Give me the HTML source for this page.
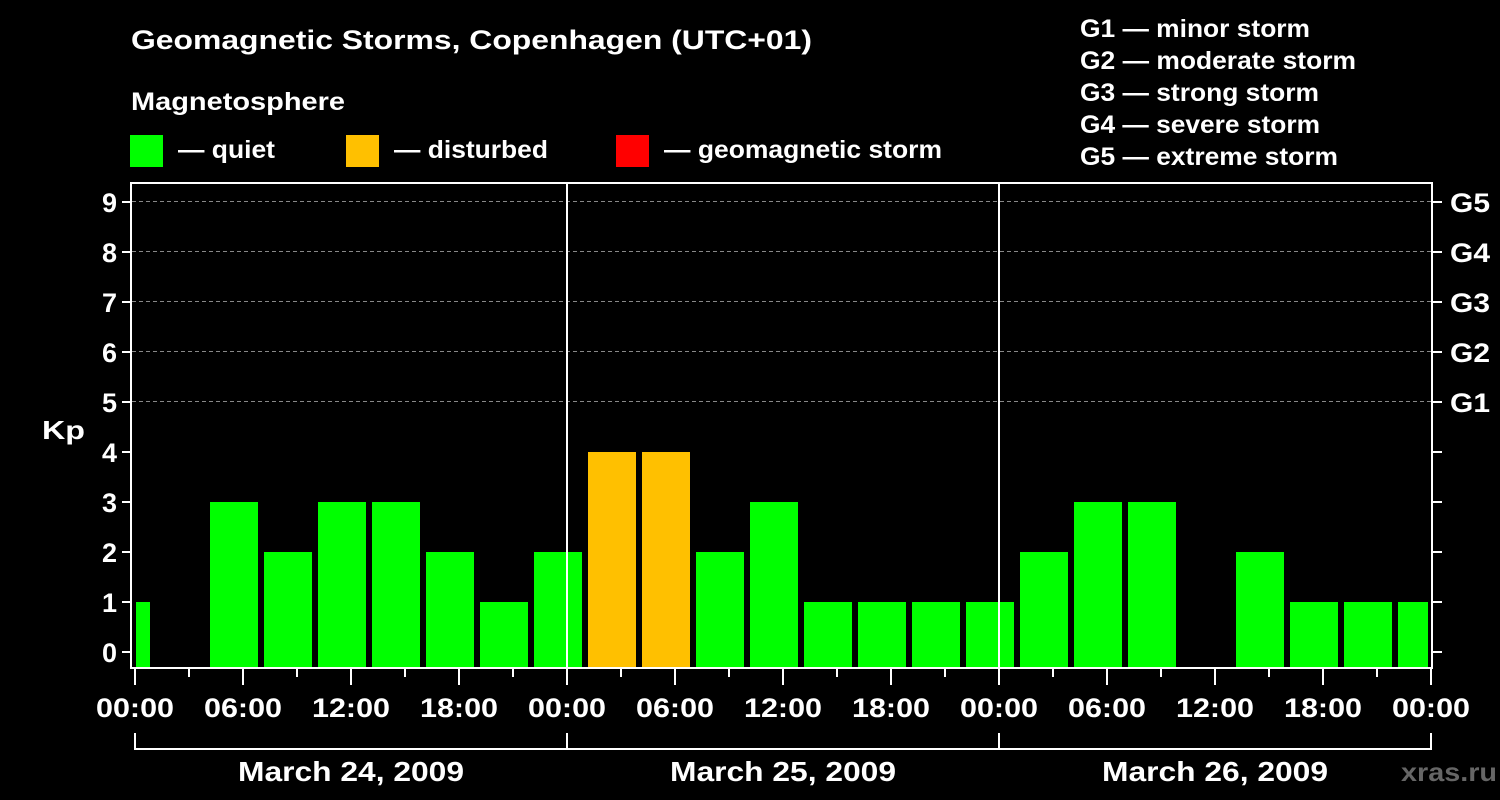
<!DOCTYPE html>
<html><head><meta charset="utf-8"><style>
html,body{margin:0;padding:0;background:#000;width:1500px;height:800px;overflow:hidden}
svg text{font-family:"Liberation Sans",Arial,sans-serif;font-weight:bold;fill:#fff}
</style></head><body>
<svg width="1500" height="800" xmlns="http://www.w3.org/2000/svg">
<rect width="1500" height="800" fill="#000"/>
<text x="131" y="49" font-size="27" textLength="681" lengthAdjust="spacingAndGlyphs">Geomagnetic Storms, Copenhagen (UTC+01)</text>
<text x="131" y="110" font-size="25" textLength="214" lengthAdjust="spacingAndGlyphs">Magnetosphere</text>
<rect x="130" y="135" width="33" height="32" fill="#00ff00"/>
<text x="178" y="158" font-size="25" textLength="97" lengthAdjust="spacingAndGlyphs">— quiet</text>
<rect x="346" y="135" width="33" height="32" fill="#ffc000"/>
<text x="394" y="158" font-size="25" textLength="154" lengthAdjust="spacingAndGlyphs">— disturbed</text>
<rect x="616" y="135" width="33" height="32" fill="#ff0000"/>
<text x="664" y="158" font-size="25" textLength="278" lengthAdjust="spacingAndGlyphs">— geomagnetic storm</text>
<g font-size="25">
<text x="1080" y="37" textLength="230" lengthAdjust="spacingAndGlyphs">G1 — minor storm</text>
<text x="1080" y="69" textLength="276" lengthAdjust="spacingAndGlyphs">G2 — moderate storm</text>
<text x="1080" y="101" textLength="239" lengthAdjust="spacingAndGlyphs">G3 — strong storm</text>
<text x="1080" y="133" textLength="240" lengthAdjust="spacingAndGlyphs">G4 — severe storm</text>
<text x="1080" y="165" textLength="258" lengthAdjust="spacingAndGlyphs">G5 — extreme storm</text>
</g>
<g stroke="#888" stroke-width="1" stroke-dasharray="4,3">
<line x1="132" x2="1431" y1="201.5" y2="201.5"/>
<line x1="132" x2="1431" y1="251.5" y2="251.5"/>
<line x1="132" x2="1431" y1="301.5" y2="301.5"/>
<line x1="132" x2="1431" y1="351.5" y2="351.5"/>
<line x1="132" x2="1431" y1="401.5" y2="401.5"/>
</g>
<g fill="#00ff00">
<rect x="136" y="602" width="14" height="66"/>
<rect x="210" y="502" width="48" height="166"/>
<rect x="264" y="552" width="48" height="116"/>
<rect x="318" y="502" width="48" height="166"/>
<rect x="372" y="502" width="48" height="166"/>
<rect x="426" y="552" width="48" height="116"/>
<rect x="480" y="602" width="48" height="66"/>
<rect x="534" y="552" width="48" height="116"/>
<rect x="696" y="552" width="48" height="116"/>
<rect x="750" y="502" width="48" height="166"/>
<rect x="804" y="602" width="48" height="66"/>
<rect x="858" y="602" width="48" height="66"/>
<rect x="912" y="602" width="48" height="66"/>
<rect x="966" y="602" width="48" height="66"/>
<rect x="1020" y="552" width="48" height="116"/>
<rect x="1074" y="502" width="48" height="166"/>
<rect x="1128" y="502" width="48" height="166"/>
<rect x="1236" y="552" width="48" height="116"/>
<rect x="1290" y="602" width="48" height="66"/>
<rect x="1344" y="602" width="48" height="66"/>
<rect x="1398" y="602" width="30" height="66"/>
</g>
<g fill="#ffc000">
<rect x="588" y="452" width="48" height="216"/>
<rect x="642" y="452" width="48" height="216"/>
</g>
<g stroke="#fff" stroke-width="2" fill="none">
<rect x="131" y="183" width="1301" height="485"/>
<line x1="567" x2="567" y1="183" y2="668"/>
<line x1="999" x2="999" y1="183" y2="668"/>
</g>
<g stroke="#fff" stroke-width="2">
<line x1="122" x2="131" y1="652" y2="652"/><line x1="1432" x2="1442" y1="652" y2="652"/>
<line x1="122" x2="131" y1="602" y2="602"/><line x1="1432" x2="1442" y1="602" y2="602"/>
<line x1="122" x2="131" y1="552" y2="552"/><line x1="1432" x2="1442" y1="552" y2="552"/>
<line x1="122" x2="131" y1="502" y2="502"/><line x1="1432" x2="1442" y1="502" y2="502"/>
<line x1="122" x2="131" y1="452" y2="452"/><line x1="1432" x2="1442" y1="452" y2="452"/>
<line x1="122" x2="131" y1="402" y2="402"/><line x1="1432" x2="1442" y1="402" y2="402"/>
<line x1="122" x2="131" y1="352" y2="352"/><line x1="1432" x2="1442" y1="352" y2="352"/>
<line x1="122" x2="131" y1="302" y2="302"/><line x1="1432" x2="1442" y1="302" y2="302"/>
<line x1="122" x2="131" y1="252" y2="252"/><line x1="1432" x2="1442" y1="252" y2="252"/>
<line x1="122" x2="131" y1="202" y2="202"/><line x1="1432" x2="1442" y1="202" y2="202"/>
</g>
<g font-size="27" text-anchor="end">
<text x="117" y="662">0</text><text x="117" y="612">1</text><text x="117" y="562">2</text>
<text x="117" y="512">3</text><text x="117" y="462">4</text><text x="117" y="412">5</text>
<text x="117" y="362">6</text><text x="117" y="312">7</text><text x="117" y="262">8</text>
<text x="117" y="212">9</text>
</g>
<text x="42" y="439" font-size="26" textLength="43" lengthAdjust="spacingAndGlyphs">Kp</text>
<g font-size="27">
<text x="1450" y="412" textLength="40" lengthAdjust="spacingAndGlyphs">G1</text>
<text x="1450" y="362" textLength="40" lengthAdjust="spacingAndGlyphs">G2</text>
<text x="1450" y="312" textLength="40" lengthAdjust="spacingAndGlyphs">G3</text>
<text x="1450" y="262" textLength="40" lengthAdjust="spacingAndGlyphs">G4</text>
<text x="1450" y="212" textLength="40" lengthAdjust="spacingAndGlyphs">G5</text>
</g>
<g stroke="#fff" stroke-width="2">
<line x1="135" x2="135" y1="669" y2="685"/><line x1="189" x2="189" y1="669" y2="677"/>
<line x1="243" x2="243" y1="669" y2="685"/><line x1="297" x2="297" y1="669" y2="677"/>
<line x1="351" x2="351" y1="669" y2="685"/><line x1="405" x2="405" y1="669" y2="677"/>
<line x1="459" x2="459" y1="669" y2="685"/><line x1="513" x2="513" y1="669" y2="677"/>
<line x1="567" x2="567" y1="669" y2="685"/><line x1="621" x2="621" y1="669" y2="677"/>
<line x1="675" x2="675" y1="669" y2="685"/><line x1="729" x2="729" y1="669" y2="677"/>
<line x1="783" x2="783" y1="669" y2="685"/><line x1="837" x2="837" y1="669" y2="677"/>
<line x1="891" x2="891" y1="669" y2="685"/><line x1="945" x2="945" y1="669" y2="677"/>
<line x1="999" x2="999" y1="669" y2="685"/><line x1="1053" x2="1053" y1="669" y2="677"/>
<line x1="1107" x2="1107" y1="669" y2="685"/><line x1="1161" x2="1161" y1="669" y2="677"/>
<line x1="1215" x2="1215" y1="669" y2="685"/><line x1="1269" x2="1269" y1="669" y2="677"/>
<line x1="1323" x2="1323" y1="669" y2="685"/><line x1="1377" x2="1377" y1="669" y2="677"/>
<line x1="1431" x2="1431" y1="669" y2="685"/>
</g>
<g font-size="27">
<text x="96" y="717" textLength="78" lengthAdjust="spacingAndGlyphs">00:00</text>
<text x="204" y="717" textLength="78" lengthAdjust="spacingAndGlyphs">06:00</text>
<text x="312" y="717" textLength="78" lengthAdjust="spacingAndGlyphs">12:00</text>
<text x="420" y="717" textLength="78" lengthAdjust="spacingAndGlyphs">18:00</text>
<text x="528" y="717" textLength="78" lengthAdjust="spacingAndGlyphs">00:00</text>
<text x="636" y="717" textLength="78" lengthAdjust="spacingAndGlyphs">06:00</text>
<text x="744" y="717" textLength="78" lengthAdjust="spacingAndGlyphs">12:00</text>
<text x="852" y="717" textLength="78" lengthAdjust="spacingAndGlyphs">18:00</text>
<text x="960" y="717" textLength="78" lengthAdjust="spacingAndGlyphs">00:00</text>
<text x="1068" y="717" textLength="78" lengthAdjust="spacingAndGlyphs">06:00</text>
<text x="1176" y="717" textLength="78" lengthAdjust="spacingAndGlyphs">12:00</text>
<text x="1284" y="717" textLength="78" lengthAdjust="spacingAndGlyphs">18:00</text>
<text x="1392" y="717" textLength="78" lengthAdjust="spacingAndGlyphs">00:00</text>
</g>
<g stroke="#fff" stroke-width="2" fill="none">
<line x1="134" x2="1432" y1="749" y2="749"/>
<line x1="135" x2="135" y1="733" y2="749"/>
<line x1="567" x2="567" y1="733" y2="749"/>
<line x1="999" x2="999" y1="733" y2="749"/>
<line x1="1431" x2="1431" y1="733" y2="749"/>
</g>
<g font-size="28">
<text x="238" y="781" textLength="226" lengthAdjust="spacingAndGlyphs">March 24, 2009</text>
<text x="670" y="781" textLength="226" lengthAdjust="spacingAndGlyphs">March 25, 2009</text>
<text x="1102" y="781" textLength="226" lengthAdjust="spacingAndGlyphs">March 26, 2009</text>
</g>
<text x="1401" y="781" font-size="26" textLength="96" lengthAdjust="spacingAndGlyphs" style="fill:#666">xras.ru</text>
</svg>
</body></html>
